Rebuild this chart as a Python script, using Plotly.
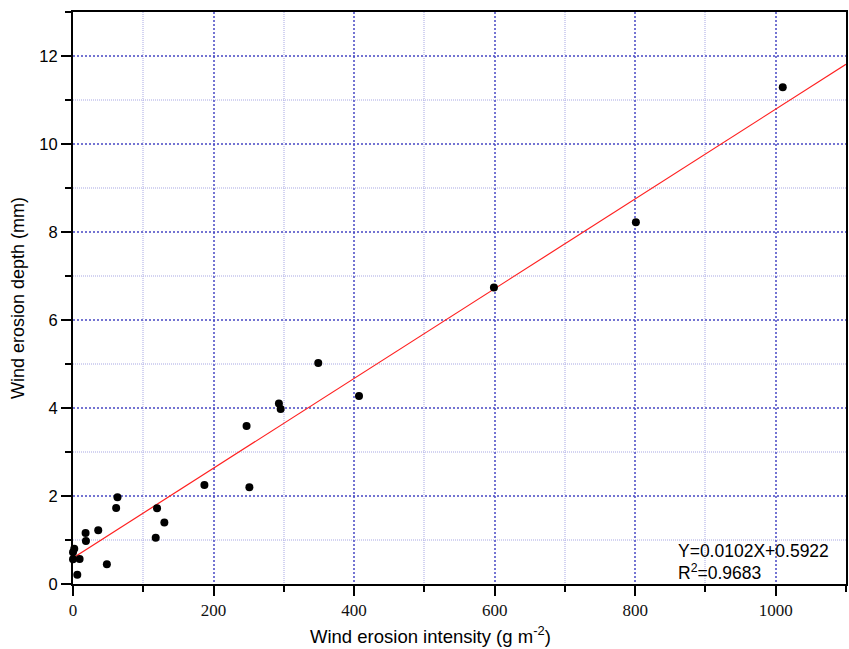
import plotly.graph_objects as go

# Measured samples: wind erosion intensity (g m-2) vs wind erosion depth (mm)
intensity = [1010, 801, 599, 349, 407, 293, 295.5, 247, 187, 251,
             63.3, 61.4, 119.6, 130, 117.7, 35.9, 17.9, 18.4, 48.2,
             1.8, 0, 0, 9.4, 6.1]
depth = [11.29, 8.22, 6.74, 5.02, 4.27, 4.10, 3.98, 3.59, 2.25, 2.20,
         1.97, 1.73, 1.72, 1.40, 1.05, 1.22, 1.16, 0.98, 0.45,
         0.80, 0.72, 0.56, 0.57, 0.21]

# Linear fit reported on the chart
slope = 0.0102
intercept = 0.5922
r_squared = 0.9683
fit_x = [0, 1100]
fit_y = [intercept + slope * v for v in fit_x]

major_grid = "rgba(70,70,195,0.75)"
minor_grid = "rgba(175,175,230,0.55)"
sans = "Liberation Sans, Arial"

fig = go.Figure()
fig.add_trace(go.Scatter(
    x=fit_x, y=fit_y, mode="lines",
    line=dict(color="#ff2020", width=1.2),
    showlegend=False, hoverinfo="skip",
))
fig.add_trace(go.Scatter(
    x=intensity, y=depth, mode="markers",
    marker=dict(color="black", size=8),
    showlegend=False, cliponaxis=False,
))

# Regression equation and coefficient of determination
fig.add_annotation(
    x=0.7806, y=0.757, xref="paper", yref="y",
    xanchor="left", yanchor="middle",
    text=f"Y={slope}X+{intercept}",
    showarrow=False, align="left",
    font=dict(family=sans, size=17.5, color="black"),
)
fig.add_annotation(
    x=0.7806, y=0.27, xref="paper", yref="y",
    xanchor="left", yanchor="middle",
    text=f"R<sup>2</sup>={r_squared}",
    showarrow=False, align="left",
    font=dict(family=sans, size=17.5, color="black"),
)

# X axis title
fig.add_annotation(
    x=0.462, y=0, xref="paper", yref="paper",
    xanchor="center", yanchor="middle", yshift=-51,
    text="Wind erosion intensity (g m<sup>-2</sup>)",
    showarrow=False,
    font=dict(family=sans, size=18.5, color="black"),
)

axis_common = dict(
    showline=True, linecolor="black", linewidth=2, mirror=True,
    ticks="outside", ticklen=10, tickwidth=2, tickcolor="black",
    showgrid=True, gridcolor=major_grid, gridwidth=1.6, griddash="2px,2px",
    zeroline=False,
)
minor_common = dict(
    ticks="outside", ticklen=6, tickwidth=2, tickcolor="black",
    showgrid=True, gridcolor=minor_grid, griddash="1px,1px", gridwidth=1.5,
)

fig.update_xaxes(
    **axis_common,
    range=[0, 1100], dtick=200, tick0=0,
    tickfont=dict(family="Liberation Serif, Times New Roman", size=17, color="#111"),
    minor=dict(dtick=100, **minor_common),
)
fig.update_yaxes(
    **axis_common,
    range=[0, 13], dtick=2, tick0=0,
    tickfont=dict(family=sans, size=16.5, color="black"),
    title=dict(text="Wind erosion depth (mm)",
               font=dict(family=sans, size=18, color="black"),
               standoff=10),
    minor=dict(dtick=1, **minor_common),
)

fig.update_layout(
    width=849, height=649,
    margin=dict(l=73, r=1, t=12, b=65),
    paper_bgcolor="white", plot_bgcolor="white",
)

fig.write_html("out.html")
